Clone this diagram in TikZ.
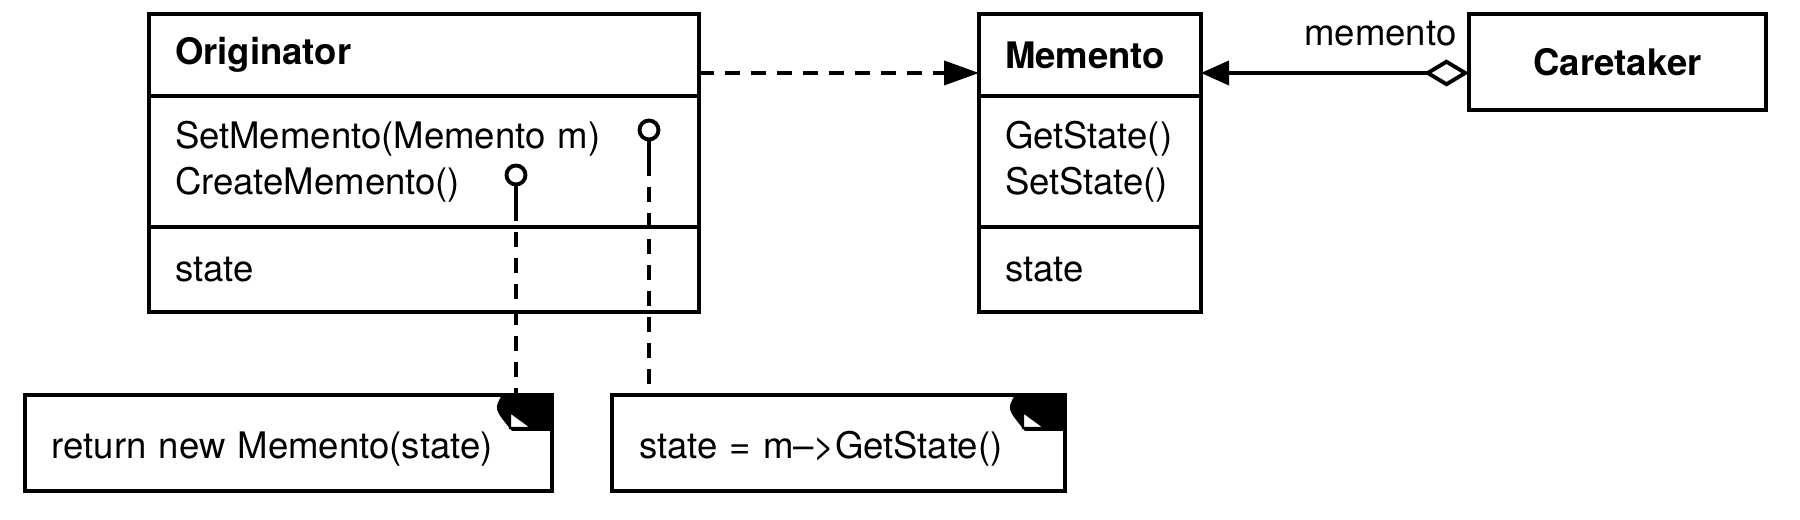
\documentclass[tikz,border=0pt]{standalone}
\usepackage{fontspec}
\setmainfont{TeX Gyre Heros}
\usetikzlibrary{positioning,arrows.meta}

\newcommand\umlsize{\fontsize{10.4}{13}\selectfont}

% folded corner of a note
\newcommand\dogear[1]{%
  \fill ([xshift=-0.5cm]#1.north east) -- (#1.north east) -- ([yshift=-0.36cm]#1.north east)
    -- ([xshift=-0.4cm,yshift=-0.36cm]#1.north east)
    .. controls ([xshift=-0.58cm,yshift=-0.14cm]#1.north east) .. ([xshift=-0.5cm]#1.north east) -- cycle;
  \filldraw[fill=white, line width=0.6pt] ([xshift=-0.42cm,yshift=-0.17cm]#1.north east)
    -- ([xshift=-0.42cm,yshift=-0.33cm]#1.north east) -- ([xshift=-0.2cm,yshift=-0.33cm]#1.north east) -- cycle;
}

\tikzset{
  box/.style={draw, line width=1.1pt, outer sep=0pt, inner xsep=0.26cm, inner ysep=0pt, align=left, font=\umlsize},
  classname/.style={box, font=\umlsize\bfseries},
  origbox/.style={text width=4.98cm},
  memobox/.style={text width=1.70cm},
  note/.style={draw, line width=1.1pt, outer sep=0pt, inner xsep=0.27cm, inner ysep=0pt, align=left,
    minimum height=0.96cm, text height=0.38cm, font=\umlsize},
  dep/.style={line width=1.1pt, dash pattern=on 0.15cm off 0.11cm},
  lolli/.style={circle, draw, line width=1.1pt, fill=white, inner sep=0pt, minimum size=0.19cm},
}

\begin{document}
\begin{tikzpicture}
\useasboundingbox (0,0) rectangle (18,5.2);

% Originator
\node[classname, origbox, minimum height=0.82cm] (orighead) at (4.24,4.65) {Originator};
\node[box, origbox, minimum height=1.31cm, below=0pt of orighead] (origops) {SetMemento(Memento m)\\CreateMemento()};
\node[box, origbox, minimum height=0.85cm, below=0pt of origops] (origattr) {state};

% Memento
\node[classname, memobox, minimum height=0.82cm] (memhead) at (10.90,4.65) {Memento};
\node[box, memobox, minimum height=1.31cm, below=0pt of memhead] (memops) {GetState()\\SetState()};
\node[box, memobox, minimum height=0.85cm, below=0pt of memops] (memattr) {state};

% Caretaker
\node[classname, align=center, minimum width=2.97cm, minimum height=0.96cm] (caretaker) at (16.175,4.58) {Caretaker};

% notes
\node[note, text width=4.73cm] (retnote) at (2.885,0.77) {return new Memento(state)};
\node[note, text width=3.99cm] (setnote) at (8.385,0.77) {state = m-->GetState()};
\dogear{retnote}
\dogear{setnote}

% Originator uses Memento
\coordinate (depstart) at ([yshift=-0.18cm]orighead.east);
\draw[dep, -{Triangle[length=0.35cm,width=0.24cm]}] (depstart) -- (depstart -| memhead.west);

% Caretaker holds memento
\coordinate (aggstart) at ([yshift=-0.11cm]caretaker.west);
\draw[line width=1.1pt, {Diamond[open,length=0.45cm,width=0.27cm]}-{Triangle[length=0.28cm,width=0.24cm]}]
  (aggstart) -- (aggstart -| memhead.east);
\node[anchor=south east, inner sep=0pt, font=\umlsize] (aggrole) at ([xshift=-0.12cm,yshift=0.26cm]aggstart) {memento};

% implementation notes
\node[lolli] (lset) at (6.49,3.90) {};
\node[lolli] (lcreate) at (5.16,3.45) {};
\draw[line width=1.1pt] (lset.south) -- ++(0,-0.2) coordinate (lsetend);
\draw[line width=1.1pt] (lcreate.south) -- ++(0,-0.2) coordinate (lcreateend);
\draw[dep] (lsetend) -- (lsetend |- setnote.north);
\draw[dep] (lcreateend) -- (lcreateend |- retnote.north);
\end{tikzpicture}
\end{document}
